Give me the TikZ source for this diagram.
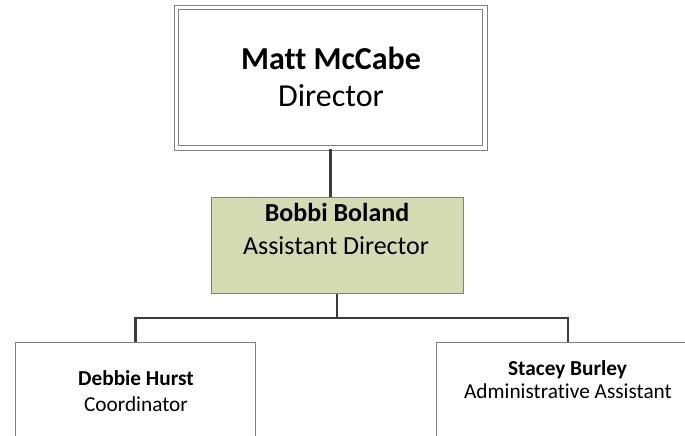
\documentclass[tikz,border=0pt]{standalone}
\usepackage{fontspec}
\setmainfont[Ligatures=NoCommon]{Carlito}
\definecolor{boxgray}{RGB}{128,128,128}
\definecolor{conngray}{RGB}{60,60,60}
\definecolor{midgreen}{RGB}{212,219,179}
\begin{document}
\begin{tikzpicture}[x=1pt,y=1pt,
  box/.style={draw=boxgray, line width=1pt, inner sep=0pt, rectangle},
  conn/.style={draw=conngray, line width=2.6pt},
  lbl/.style={anchor=base, inner sep=0pt, text=black}]
\useasboundingbox (0,0) rectangle (685,-436);
\clip (0,0) rectangle (685,-436);
% boxes
\node[box, double=white, double distance=3.5pt, minimum width=308.5pt, minimum height=140.5pt] (top) at (330.75,-77.75) {};
\node[box, fill=midgreen, minimum width=252pt, minimum height=96pt] (mid) at (337,-245) {};
\node[box, minimum width=240pt, minimum height=200pt, anchor=north] (left) at (135.7,-342) {};
\node[box, minimum width=262.6pt, minimum height=200pt, anchor=north] (right) at (567.9,-342) {};
% connectors
\coordinate (bus) at (337,-318);
\draw[conn] (top.south) -- (top.south |- mid.north);
\draw[conn] (mid.south) -- (bus);
\draw[conn] (left.north) |- (bus) -| (right.north);
% labels
\node[lbl, font=\fontsize{32}{36}\selectfont\bfseries] (t1) at (331,-70) {Matt McCabe};
\node[lbl, font=\fontsize{32}{36}\selectfont] (t2) at (331,-106.7) {Director};
\node[lbl, font=\fontsize{26}{30}\selectfont\bfseries] (m1) at (337,-221.7) {Bobbi Boland};
\node[lbl, font=\fontsize{26}{30}\selectfont] (m2) at (336,-254) {Assistant Director};
\node[lbl, font=\fontsize{21.3}{25}\selectfont\bfseries] (l1) at (136,-385) {Debbie Hurst};
\node[lbl, font=\fontsize{21.3}{25}\selectfont] (l2) at (136,-411) {Coordinator};
\node[lbl, font=\fontsize{21.3}{25}\selectfont\bfseries] (r1) at (567.5,-375) {Stacey Burley};
\node[lbl, font=\fontsize{21.3}{25}\selectfont] (r2) at (568,-398) {Administrative Assistant};
\end{tikzpicture}
\end{document}
